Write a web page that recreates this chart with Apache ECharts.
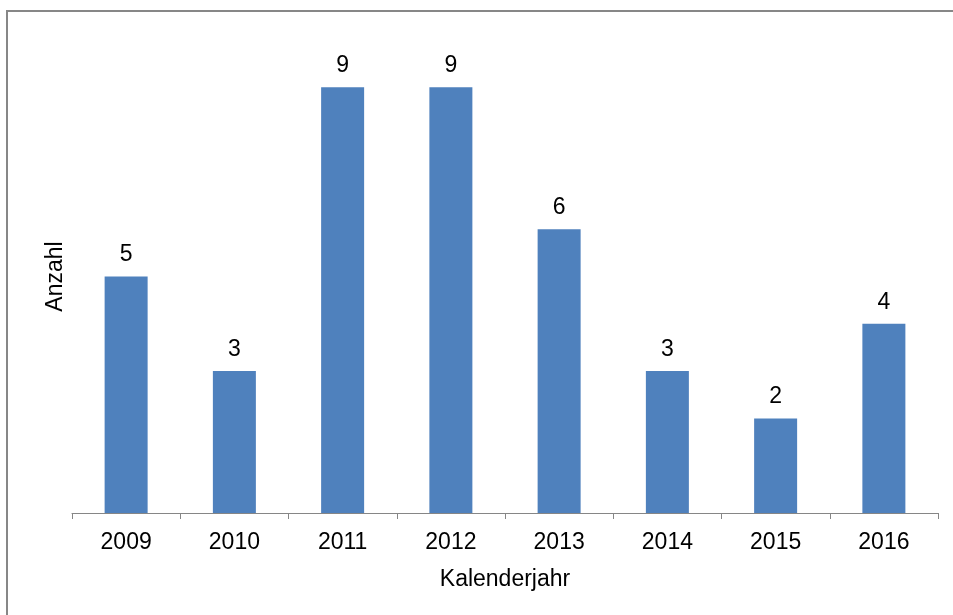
<!DOCTYPE html>
<html>
<head>
<meta charset="utf-8">
<script src="https://cdn.jsdelivr.net/npm/echarts@6/dist/echarts.min.js"></script>
<style>
  html, body { margin: 0; padding: 0; background: #fff; }
  #chart { width: 953px; height: 615px; }
</style>
</head>
<body>
<div id="chart"></div>
<script>
// Anzahl pro Kalenderjahr
const years = ['2009', '2010', '2011', '2012', '2013', '2014', '2015', '2016'];
const counts = [5, 3, 9, 9, 6, 3, 2, 4];

const chart = echarts.init(document.getElementById('chart'));
const font = 'Liberation Sans, Arial, sans-serif';

chart.setOption({
  animation: false,
  backgroundColor: '#ffffff',
  graphic: [{
    type: 'rect',
    shape: { x: 7, y: 11, width: 990, height: 640 },
    style: { fill: 'none', stroke: '#878787', lineWidth: 2 },
    silent: true
  }],
  grid: { left: 72, right: 15, top: 40, bottom: 102, containLabel: false },
  xAxis: {
    type: 'category',
    data: years,
    boundaryGap: true,
    name: 'Kalenderjahr',
    nameLocation: 'middle',
    nameGap: 55,
    nameTextStyle: { fontFamily: font, fontSize: 23, color: '#000' },
    axisLine: { lineStyle: { color: '#868686', width: 1 } },
    axisTick: { show: true, length: 6, alignWithLabel: false, lineStyle: { color: '#868686' } },
    axisLabel: { fontFamily: font, fontSize: 23, color: '#000', margin: 18 }
  },
  yAxis: {
    type: 'value',
    min: 0,
    max: 10,
    interval: 1,
    name: 'Anzahl',
    nameLocation: 'middle',
    nameGap: 5,
    nameTextStyle: { fontFamily: font, fontSize: 23, color: '#000' },
    axisLine: { show: false },
    axisTick: { show: false },
    axisLabel: { show: false },
    splitLine: { show: false }
  },
  series: [{
    type: 'bar',
    data: counts,
    barWidth: 43,
    itemStyle: { color: '#4F81BD' },
    label: {
      show: true,
      position: 'top',
      distance: 10,
      fontFamily: font,
      fontSize: 23,
      color: '#000'
    }
  }]
});
</script>
</body>
</html>
